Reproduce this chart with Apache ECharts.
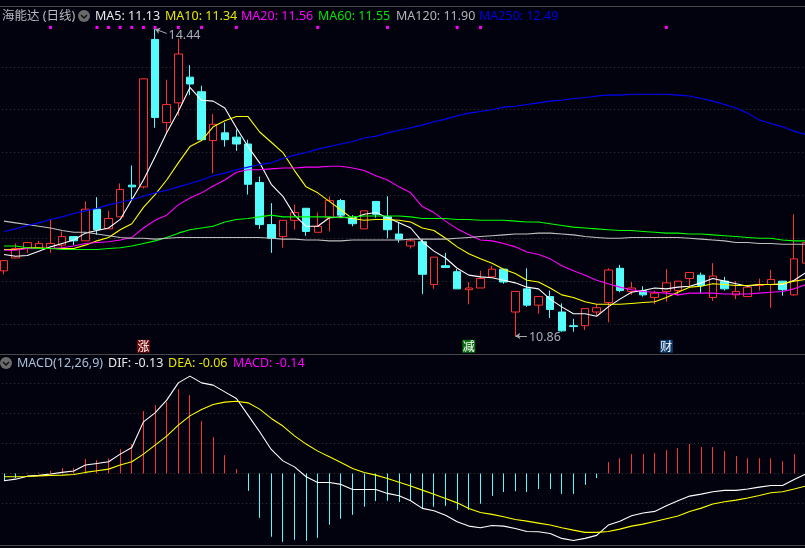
<!DOCTYPE html>
<html>
<head>
<meta charset="utf-8">
<style>
html, body { margin: 0; padding: 0; background: #02020e; }
#main { width: 805px; height: 548px; }
</style>
<script src="https://cdn.jsdelivr.net/npm/echarts@6/dist/echarts.min.js"></script>
</head>
<body>
<div id="main"></div>
<script>
// 日线: [open, close, low, high]
var candles = [
  [11.62,11.74,11.58,11.74],[11.77,11.88,11.77,11.94],[11.88,11.95,11.83,11.95],[11.88,11.94,11.88,11.97],[11.88,11.94,11.83,12.22],
  [11.92,12.02,11.89,12.08],[12.02,11.97,11.92,12.02],[11.97,12.34,11.97,12.43],[12.34,12.10,12.04,12.48],[12.11,12.23,12.11,12.32],
  [12.25,12.57,12.25,12.64],[12.62,12.60,12.45,12.85],[12.60,13.86,12.58,13.86],[14.32,13.41,13.29,14.44],[13.35,13.56,13.23,13.85],
  [13.58,14.15,13.43,14.33],[13.88,13.80,13.67,14.02],[13.71,13.15,13.15,13.78],[13.14,13.33,12.76,13.45],[13.23,13.15,13.07,13.35],
  [13.18,13.10,13.02,13.27],[13.10,12.63,12.51,13.15],[12.65,12.16,12.11,12.72],[12.16,12.00,11.83,12.41],[12.02,12.21,11.89,12.21],
  [12.21,12.30,12.10,12.39],[12.35,12.08,12.03,12.35],[12.07,12.14,12.07,12.30],[12.24,12.44,12.08,12.49],[12.44,12.27,12.25,12.46],
  [12.23,12.17,12.14,12.27],[12.11,12.32,12.11,12.32],[12.43,12.28,12.24,12.43],[12.25,12.10,12.00,12.49],[12.05,11.99,11.95,12.19],
  [11.91,11.97,11.88,11.99],[11.96,11.58,11.35,11.99],[11.46,11.78,11.41,11.78],[11.68,11.66,11.66,11.83],[11.61,11.41,11.41,11.64],
  [11.40,11.42,11.23,11.49],[11.42,11.53,11.42,11.62],[11.55,11.64,11.55,11.68],[11.64,11.49,11.47,11.64],[11.14,11.38,10.86,11.38],
  [11.41,11.22,11.20,11.65],[11.22,11.32,11.12,11.32],[11.32,11.17,11.07,11.39],[11.14,10.92,10.91,11.24],[10.98,10.97,10.91,11.06],
  [10.98,11.18,10.93,11.18],[11.14,11.19,11.10,11.23],[11.25,11.63,11.02,11.65],[11.65,11.39,11.37,11.69],[11.38,11.42,11.34,11.49],
  [11.39,11.34,11.32,11.44],[11.31,11.36,11.23,11.39],[11.38,11.48,11.26,11.64],[11.39,11.50,11.33,11.50],[11.53,11.60,11.44,11.60],
  [11.57,11.45,11.36,11.60],[11.31,11.56,11.27,11.71],[11.50,11.41,11.39,11.55],[11.34,11.38,11.29,11.50],[11.32,11.43,11.32,11.43],
  [11.45,11.46,11.39,11.53],[11.46,11.52,11.19,11.63],[11.50,11.40,11.33,11.50],[11.34,11.76,11.33,12.28],[11.71,11.95,11.71,11.95]
];
var ma5 = [11.81,11.79,11.80,11.85,11.90,11.94,11.98,12.06,12.09,12.12,12.22,12.45,12.68,12.95,13.23,13.48,13.76,13.61,13.60,13.52,13.29,13.07,12.88,12.63,12.49,12.27,12.14,12.14,12.24,12.25,12.23,12.28,12.30,12.24,12.18,12.12,11.96,11.85,11.77,11.65,11.57,11.55,11.54,11.51,11.48,11.43,11.41,11.29,11.20,11.12,11.12,11.09,11.20,11.29,11.37,11.39,11.42,11.41,11.43,11.44,11.48,11.53,11.50,11.47,11.44,11.46,11.46,11.46,11.51,11.60];
var ma10 = [11.87,11.87,11.89,11.89,11.88,11.88,11.88,11.92,11.97,12.01,12.10,12.17,12.36,12.51,12.68,12.88,13.07,13.14,13.30,13.37,13.42,13.42,13.24,13.12,13.00,12.79,12.60,12.53,12.43,12.33,12.23,12.21,12.22,12.22,12.21,12.19,12.12,12.09,12.00,11.90,11.82,11.76,11.71,11.64,11.59,11.51,11.49,11.42,11.34,11.31,11.26,11.23,11.23,11.23,11.24,11.25,11.26,11.31,11.37,11.43,11.44,11.47,11.46,11.45,11.45,11.46,11.46,11.47,11.50,11.52];
var ma20 = [11.86,11.86,11.88,11.88,11.88,11.89,11.91,11.94,11.95,11.96,11.98,12.01,12.12,12.21,12.27,12.39,12.47,12.53,12.61,12.68,12.77,12.80,12.80,12.81,12.82,12.82,12.83,12.83,12.84,12.84,12.82,12.79,12.73,12.68,12.60,12.53,12.37,12.30,12.20,12.11,12.04,11.98,11.97,11.94,11.90,11.84,11.81,11.76,11.68,11.62,11.57,11.51,11.47,11.43,11.40,11.38,11.37,11.36,11.34,11.36,11.36,11.36,11.35,11.35,11.35,11.36,11.37,11.38,11.41,11.46];
var ma60 = [11.91,11.91,11.89,11.88,11.88,11.87,11.87,11.87,11.87,11.88,11.89,11.91,11.94,11.97,12.01,12.06,12.10,12.12,12.14,12.19,12.22,12.23,12.25,12.27,12.25,12.25,12.25,12.25,12.25,12.24,12.25,12.26,12.26,12.26,12.26,12.25,12.23,12.23,12.23,12.22,12.22,12.21,12.21,12.21,12.20,12.19,12.19,12.17,12.15,12.13,12.12,12.11,12.10,12.09,12.09,12.08,12.07,12.06,12.06,12.05,12.05,12.04,12.03,12.02,12.01,12.00,12.00,11.98,11.97,11.97];
var ma120 = [12.20,12.18,12.16,12.14,12.12,12.09,12.07,12.07,12.05,12.03,12.01,12.00,12.00,11.99,12.00,12.01,12.01,12.01,12.01,12.01,12.01,12.01,12.01,12.00,11.99,11.99,11.98,11.98,11.97,11.97,11.98,11.98,11.98,11.98,11.98,11.99,11.99,11.99,11.99,12.00,12.01,12.02,12.03,12.04,12.05,12.05,12.06,12.06,12.05,12.04,12.02,12.01,12.00,12.00,12.01,12.01,12.01,12.01,12.01,12.00,11.99,11.98,11.97,11.95,11.95,11.94,11.94,11.93,11.93,11.93];
var ma250 = [12.08,12.11,12.15,12.18,12.22,12.25,12.29,12.32,12.35,12.39,12.42,12.45,12.49,12.53,12.56,12.60,12.64,12.68,12.73,12.76,12.80,12.83,12.86,12.88,12.93,12.97,13.00,13.04,13.07,13.10,13.13,13.17,13.19,13.23,13.26,13.29,13.32,13.36,13.39,13.43,13.46,13.48,13.50,13.53,13.54,13.56,13.58,13.60,13.61,13.63,13.64,13.66,13.67,13.67,13.68,13.68,13.68,13.68,13.67,13.66,13.63,13.60,13.56,13.52,13.46,13.38,13.34,13.30,13.25,13.21];
// MACD 副图
var dif = [-0.049,-0.038,-0.018,-0.013,-0.004,0.007,0.016,0.056,0.067,0.078,0.129,0.173,0.344,0.404,0.489,0.604,0.649,0.604,0.589,0.544,0.5,0.389,0.278,0.16,0.084,0.044,-0.022,-0.06,-0.06,-0.073,-0.107,-0.107,-0.107,-0.133,-0.149,-0.182,-0.233,-0.249,-0.278,-0.322,-0.351,-0.362,-0.347,-0.351,-0.367,-0.387,-0.389,-0.4,-0.433,-0.447,-0.433,-0.413,-0.344,-0.318,-0.282,-0.264,-0.253,-0.216,-0.182,-0.151,-0.138,-0.122,-0.113,-0.113,-0.104,-0.091,-0.08,-0.08,-0.04,-0.004];
var dea = [-0.022,-0.022,-0.02,-0.016,-0.013,-0.011,-0.007,0.007,0.018,0.029,0.056,0.078,0.129,0.189,0.249,0.322,0.384,0.427,0.46,0.476,0.482,0.471,0.429,0.367,0.316,0.251,0.196,0.149,0.111,0.073,0.033,0.007,-0.011,-0.033,-0.058,-0.084,-0.111,-0.138,-0.167,-0.196,-0.233,-0.26,-0.273,-0.289,-0.307,-0.318,-0.331,-0.344,-0.362,-0.378,-0.393,-0.393,-0.387,-0.371,-0.351,-0.338,-0.32,-0.302,-0.284,-0.253,-0.231,-0.204,-0.189,-0.178,-0.164,-0.147,-0.129,-0.122,-0.104,-0.084];
var macd = [-0.05,-0.03,0.005,0.005,0.016,0.036,0.036,0.096,0.089,0.1,0.162,0.196,0.416,0.456,0.478,0.562,0.522,0.349,0.242,0.122,0.029,-0.116,-0.296,-0.422,-0.456,-0.442,-0.449,-0.429,-0.342,-0.302,-0.276,-0.222,-0.184,-0.182,-0.191,-0.182,-0.231,-0.222,-0.216,-0.242,-0.242,-0.202,-0.149,-0.124,-0.118,-0.124,-0.104,-0.104,-0.136,-0.136,-0.076,-0.031,0.076,0.102,0.129,0.129,0.136,0.156,0.169,0.196,0.176,0.176,0.149,0.116,0.102,0.102,0.102,0.082,0.129,0.12];
// 顶部信号点, 底部标记
var signalDays = [4,8,9,10,11,12,13,15,17,20,27,33,39,41,57];
var signalLevel = 14.46;
var chipDays = [12,40,57];
var chipTexts = ['涨','减','财'];
var chipColors = ['#6e0808','#0a7012','#0c3c6e'];
var chipLevel = 10.74;
var priceTicks = [11,11.5,12,12.5,13,13.5,14];
var macdTicks = [-0.2,0,0.2,0.4,0.6];
// 标题行
var headMain = [['海能达 (日线)','#b8bcc0',2],['MA5: 11.13','#e8e8e8',95],['MA10: 11.34','#e6e600',165],['MA20: 11.56','#ff00ff',241],['MA60: 11.55','#00e600',318],['MA120: 11.90','#b4b4b4',396],['MA250: 12.49','#0000e6',479]];
var headMacd = [['MACD(12,26,9)','#a8c0d8',17],['DIF: -0.13','#e8e8e8',108],['DEA: -0.06','#e6e600',168],['MACD: -0.14','#ff00ff',233]];

var days = candles.map(function (c, i) { return i; });
var BG = '#02020e', RED = '#ff3232', CYAN = '#54fcfc', GRID = '#3a3a3a';
var FONT = '"Noto Sans", "Noto Sans CJK SC", sans-serif';

function headText(row, y) {
    return row.map(function (t) {
        return { type: 'text', x: t[2], y: y, style: { text: t[0], fill: t[1], font: '12.5px ' + FONT, textVerticalAlign: 'middle' }, z: 20 };
    });
}
function headIcon(cx, cy) {
    return [
        { type: 'circle', shape: { cx: cx, cy: cy, r: 6 }, style: { fill: '#6a6a6a' }, z: 20 },
        { type: 'polyline', shape: { points: [[cx - 3, cy - 1], [cx, cy + 2], [cx + 3, cy - 1]] }, style: { stroke: '#111', lineWidth: 1.5 }, z: 21 }
    ];
}
function rule(y) {
    return { type: 'line', shape: { x1: 0, y1: y + 0.5, x2: 805, y2: y + 0.5 }, style: { stroke: '#484848', lineWidth: 1 }, z: 20 };
}
function maLine(name, data, color) {
    return {
        name: name, type: 'line', data: data, xAxisIndex: 0, yAxisIndex: 0, symbol: 'none',
        lineStyle: { color: color, width: 1.1 }, z: 5, animation: false, silent: true
    };
}
function macdLine(name, data, color) {
    return {
        name: name, type: 'line', data: data, xAxisIndex: 1, yAxisIndex: 1, symbol: 'none',
        lineStyle: { color: color, width: 1.1 }, z: 5, animation: false
    };
}
function dashed() {
    return { show: true, lineStyle: { color: GRID, type: [1, 3], width: 1 } };
}
// MACD柱: 1px 贴齐像素
function macdBar(params, api) {
    var base = api.coord([api.value(0), 0]);
    var end = api.coord([api.value(0), api.value(1)]);
    var x = Math.floor(base[0]) + 0.5;
    return {
        type: 'line',
        shape: { x1: x, y1: base[1], x2: x, y2: end[1] },
        style: { stroke: api.value(1) >= 0 ? RED : CYAN, lineWidth: 1 }
    };
}

var chart = echarts.init(document.getElementById('main'));
chart.setOption({
    animation: false,
    backgroundColor: BG,
    grid: [
        { left: -1.8, top: 6, width: 813.4, height: 348, outerBoundsMode: 'none' },
        { left: -1.8, top: 355, width: 813.4, height: 190, outerBoundsMode: 'none' }
    ],
    xAxis: [
        { type: 'category', gridIndex: 0, data: days, boundaryGap: true, axisLine: { show: false }, axisTick: { show: false }, axisLabel: { show: false }, splitLine: { show: false } },
        { type: 'category', gridIndex: 1, data: days, boundaryGap: true, axisLine: { show: false }, axisTick: { show: false }, axisLabel: { show: false }, splitLine: { show: false } }
    ],
    yAxis: [
        { type: 'value', gridIndex: 0, min: 10.65, max: 14.71, axisLine: { show: false }, axisLabel: { show: false }, axisTick: { show: false, customValues: priceTicks }, splitLine: dashed() },
        { type: 'value', gridIndex: 1, min: -0.477, max: 0.79, axisLine: { show: false }, axisLabel: { show: false }, axisTick: { show: false, customValues: macdTicks }, splitLine: dashed() }
    ],
    graphic: [rule(6), rule(354), rule(545)]
        .concat(headText(headMain, 16)).concat(headText(headMacd, 363))
        .concat(headIcon(84, 16)).concat(headIcon(6, 363)),
    series: [
        {
            name: 'K', type: 'candlestick', data: candles, barWidth: 8, z: 3,
            itemStyle: { color: BG, color0: CYAN, borderColor: RED, borderColor0: CYAN, borderWidth: 1 },
            markLine: {
                silent: true, animation: false,
                lineStyle: { color: '#a8a8a8', type: 'solid', width: 1 },
                label: { show: true, position: 'end', distance: 2, offset: [0, 1], formatter: '{c}', color: '#a8b0b8', fontSize: 12.5, fontFamily: FONT },
                data: [
                    [{ coord: [13, 14.44], symbol: 'arrow', symbolSize: 5 }, { coord: [14, 14.39], symbol: 'none', value: '14.44' }],
                    [{ coord: [44, 10.86], symbol: 'arrow', symbolSize: 5 }, { coord: [45, 10.86], symbol: 'none', value: '10.86' }]
                ]
            }
        },
        maLine('MA5', ma5, '#ffffff'),
        maLine('MA10', ma10, '#ffff00'),
        maLine('MA20', ma20, '#ff00ff'),
        maLine('MA60', ma60, '#00ff00'),
        maLine('MA120', ma120, '#c0c0c0'),
        maLine('MA250', ma250, '#0000ff'),
        {
            name: 'signal', type: 'scatter', symbol: 'rect', symbolSize: 3, z: 6,
            data: signalDays.map(function (d) { return [d, signalLevel]; }),
            itemStyle: { color: '#ff00ff', opacity: 1 }
        },
        {
            name: 'chip', type: 'scatter', symbol: 'rect', symbolSize: 13, z: 6,
            data: chipDays.map(function (d, i) {
                return {
                    value: [d, chipLevel],
                    itemStyle: { color: chipColors[i], opacity: 1 },
                    label: { show: true, position: 'inside', formatter: chipTexts[i], color: '#ffffff', fontSize: 12, fontFamily: '"Noto Sans CJK SC"', textBorderWidth: 0 }
                };
            })
        },
        {
            name: 'MACD', type: 'custom', xAxisIndex: 1, yAxisIndex: 1, z: 3,
            data: macd.map(function (v, i) { return [i, v]; }),
            encode: { x: 0, y: 1 },
            renderItem: macdBar
        },
        macdLine('DIF', dif, '#ffffff'),
        macdLine('DEA', dea, '#ffff00')
    ]
});
</script>
</body>
</html>
